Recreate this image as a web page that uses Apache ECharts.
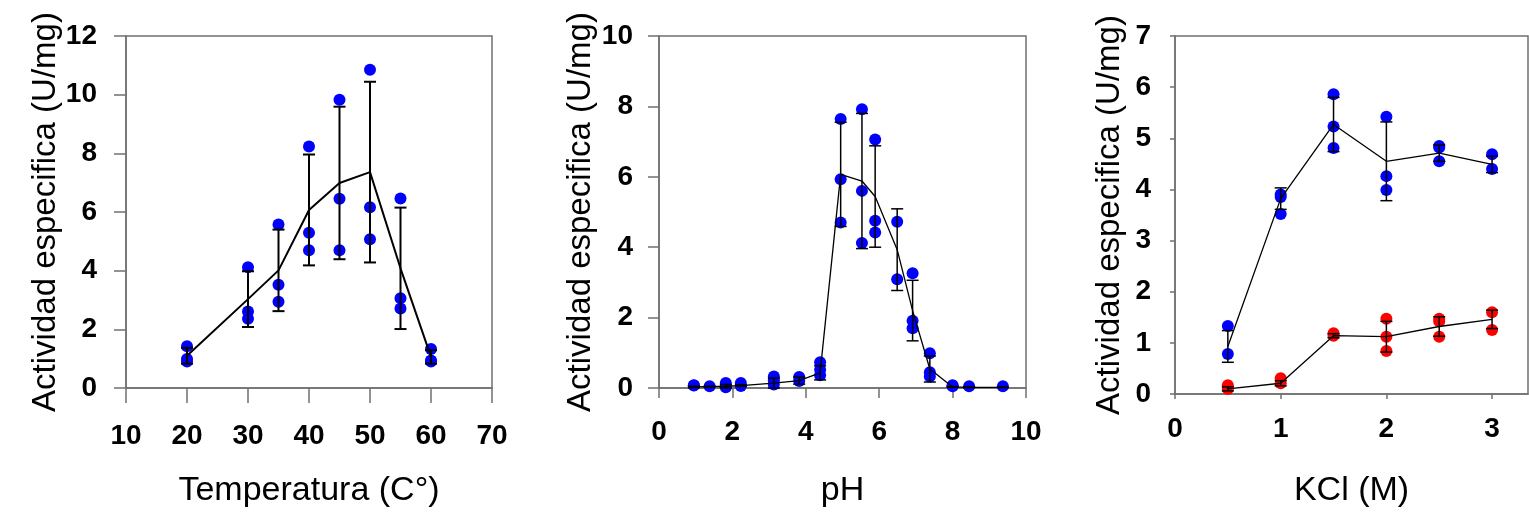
<!DOCTYPE html>
<html>
<head>
<meta charset="utf-8">
<script src="https://cdn.jsdelivr.net/npm/echarts@6/dist/echarts.min.js"></script>
<style>
  html, body { margin: 0; padding: 0; background: #fff; }
  #chart { width: 1529px; height: 513px; }
</style>
</head>
<body>
<div id="chart"></div>
<script>
// temperatura
const tempX = [20, 30, 35, 40, 45, 50, 55, 60];
const tempReps = [[1.42, 0.99, 0.90], [4.12, 2.61, 2.36], [5.57, 3.52, 2.94], [8.23, 5.29, 4.70],
  [9.83, 6.45, 4.70], [10.85, 6.16, 5.07], [6.46, 3.06, 2.71], [1.33, 0.94, 0.90]];
const tempMean = [1.10, 3.03, 4.01, 6.07, 6.99, 7.36, 4.08, 1.06];
const tempSd = [0.27, 0.95, 1.39, 1.89, 2.60, 3.08, 2.07, 0.23];

// pH
const phX = [0.95, 1.38, 1.82, 2.23, 3.13, 3.82, 4.39, 4.95, 5.53, 5.89, 6.49, 6.91, 7.38, 8.0, 8.45, 9.37];
const phReps = [[0.08, 0.07], [0.05], [0.14, 0.02, 0.06], [0.14, 0.06], [0.33, 0.10, 0.22], [0.31, 0.20],
  [0.73, 0.52, 0.36], [7.64, 5.93, 4.70], [7.92, 5.60, 4.12], [7.06, 4.75, 4.42], [4.72, 3.09],
  [3.26, 1.91, 1.70], [0.99, 0.45, 0.33], [0.08, 0.05], [0.05], [0.05]];
const phMean = [0.03, 0.04, 0.05, 0.07, 0.14, 0.21, 0.43, 6.07, 5.88, 5.44, 3.93, 2.20, 0.54, 0.03, 0.02, 0.02];
const phSd = [0.02, 0.01, 0.05, 0.02, 0.14, 0.10, 0.20, 1.48, 1.92, 1.44, 1.16, 0.86, 0.37, 0.01, 0.01, 0.01];

// KCl
const kclX = [0.5, 1, 1.5, 2, 2.5, 3];
const kclBlueReps = [[1.33, 0.78], [3.90, 3.85, 3.52], [5.86, 5.23, 4.81], [5.42, 4.26, 3.99],
  [4.85, 4.82, 4.55], [4.69, 4.40]];
const kclBlueMean = [0.93, 3.82, 5.27, 4.55, 4.71, 4.49];
const kclBlueSd = [0.31, 0.21, 0.53, 0.77, 0.16, 0.16];
const kclRedReps = [[0.17, 0.10], [0.31, 0.21], [1.19, 1.14], [1.47, 1.12, 0.84], [1.47, 1.42, 1.12], [1.60, 1.25]];
const kclRedMean = [0.10, 0.21, 1.14, 1.12, 1.32, 1.46];
const kclRedSd = [0.04, 0.05, 0.04, 0.30, 0.19, 0.18];

const FONT = '"Liberation Sans", Arial, sans-serif';
const AXIS_COLOR = "#707070";

function points(xs, reps) {
  const out = [];
  xs.forEach((x, i) => reps[i].forEach(v => out.push([x, v])));
  return out;
}

function scatter(idx, xs, reps, color) {
  return {
    type: "scatter",
    xAxisIndex: idx,
    yAxisIndex: idx,
    data: points(xs, reps),
    symbolSize: 12,
    itemStyle: { color: color, opacity: 1 },
    z: 2
  };
}

function meanLine(idx, xs, mean, width) {
  return {
    type: "line",
    xAxisIndex: idx,
    yAxisIndex: idx,
    data: xs.map((x, i) => [x, mean[i]]),
    showSymbol: false,
    lineStyle: { color: "#000", width: width },
    z: 3
  };
}

function errorBars(idx, xs, mean, sd, width) {
  return {
    type: "custom",
    xAxisIndex: idx,
    yAxisIndex: idx,
    data: xs.map((x, i) => [x, mean[i] - sd[i], mean[i] + sd[i]]),
    z: 4,
    renderItem(params, api) {
      const lo = api.coord([api.value(0), api.value(1)]);
      const hi = api.coord([api.value(0), api.value(2)]);
      const w = 6;
      const style = { stroke: "#000", lineWidth: width };
      return {
        type: "group",
        children: [
          { type: "line", shape: { x1: lo[0], y1: lo[1], x2: hi[0], y2: hi[1] }, style },
          { type: "line", shape: { x1: lo[0] - w, y1: lo[1], x2: lo[0] + w, y2: lo[1] }, style },
          { type: "line", shape: { x1: hi[0] - w, y1: hi[1], x2: hi[0] + w, y2: hi[1] }, style }
        ]
      };
    }
  };
}

function xAxis(idx, min, max, interval, name, tickLen, labelMargin, nameGap) {
  return {
    type: "value",
    gridIndex: idx,
    min, max, interval,
    name,
    nameLocation: "middle",
    nameGap,
    nameTextStyle: { fontFamily: FONT, fontSize: 34, color: "#000" },
    axisLine: { show: true, lineStyle: { color: AXIS_COLOR, width: 1.5 } },
    axisTick: { show: true, length: tickLen, lineStyle: { color: AXIS_COLOR, width: 1.5 } },
    axisLabel: { fontFamily: FONT, fontSize: 28, fontWeight: "bold", color: "#000", margin: labelMargin, showMaxLabel: idx !== 2 },
    splitLine: { show: false }
  };
}

function yAxis(idx, max, interval, tickLen, labelMargin, nameGap) {
  return {
    type: "value",
    gridIndex: idx,
    min: 0, max, interval,
    name: "Actividad especifica (U/mg)",
    nameLocation: "middle",
    nameRotate: 90,
    nameGap,
    nameTextStyle: { fontFamily: FONT, fontSize: 33, color: "#000" },
    axisLine: { show: true, lineStyle: { color: AXIS_COLOR, width: 1.5 } },
    axisTick: { show: true, length: tickLen, lineStyle: { color: AXIS_COLOR, width: 1.5 } },
    axisLabel: { fontFamily: FONT, fontSize: 28, fontWeight: "bold", color: "#000", margin: labelMargin },
    splitLine: { show: false }
  };
}

const gridBase = { show: true, borderColor: AXIS_COLOR, borderWidth: 1.5, backgroundColor: "transparent" };

const chart = echarts.init(document.getElementById("chart"));
chart.setOption({
  animation: false,
  backgroundColor: "#fff",
  grid: [
    Object.assign({ left: 126, top: 36, width: 366, height: 355 }, gridBase),
    Object.assign({ left: 659, top: 36, width: 367, height: 355 }, gridBase),
    Object.assign({ left: 1175, top: 36, width: 353, height: 360 }, gridBase)
  ],
  xAxis: [
    xAxis(0, 10, 70, 10, "Temperatura (C°)", 15, 34, 86),
    xAxis(1, 0, 10, 2, "pH", 10, 30, 86),
    xAxis(2, 0, 3.34, 1, "KCl (M)", 5, 21, 80)
  ],
  yAxis: [
    yAxis(0, 12, 2, 12, 29, 64),
    yAxis(1, 10, 2, 11, 26, 62),
    yAxis(2, 7, 1, 5, 24, 49)
  ],
  series: [
    scatter(0, tempX, tempReps, "#0000ff"),
    meanLine(0, tempX, tempMean, 2),
    errorBars(0, tempX, tempMean, tempSd, 2),

    scatter(1, phX, phReps, "#0000ff"),
    meanLine(1, phX, phMean, 1.3),
    errorBars(1, phX, phMean, phSd, 1.5),

    scatter(2, kclX, kclBlueReps, "#0000ff"),
    scatter(2, kclX, kclRedReps, "#ff0000"),
    meanLine(2, kclX, kclBlueMean, 1.3),
    meanLine(2, kclX, kclRedMean, 1.3),
    errorBars(2, kclX, kclBlueMean, kclBlueSd, 1.5),
    errorBars(2, kclX, kclRedMean, kclRedSd, 1.5)
  ]
});
</script>
</body>
</html>
